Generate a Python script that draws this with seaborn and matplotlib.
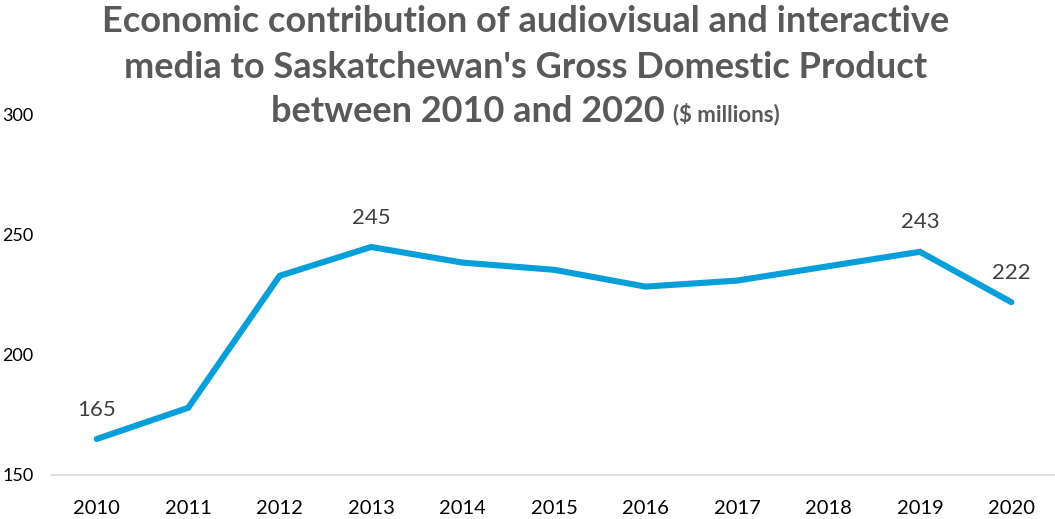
import matplotlib
matplotlib.use("Agg")
import matplotlib.pyplot as plt
import seaborn as sns
import pandas as pd

years = ["2010", "2011", "2012", "2013", "2014", "2015", "2016", "2017", "2018", "2019", "2020"]
gdp = [165, 178, 233, 245, 238.5, 235.5, 228.5, 231, 237, 243, 222]
labelled_years = ["2010", "2013", "2019", "2020"]
y_ticks = [150, 200, 250, 300]

sns.set_theme(style="white")
plt.rcParams["font.family"] = ["Lato", "DejaVu Sans"]

df = pd.DataFrame({"year": years, "gdp": gdp})

fig = plt.figure(figsize=(10.55, 5.19), dpi=100)
ax = fig.add_axes([51 / 1055, 1 - 475 / 519, 1 - 51 / 1055 + 0.002, (475 - 115) / 519])

sns.lineplot(data=df, x="year", y="gdp", ax=ax, color="#069fd9", linewidth=4.4,
             sort=False, solid_capstyle="round", solid_joinstyle="miter")

ax.set_xlim(-0.5, len(years) - 0.5)
ax.set_ylim(y_ticks[0], y_ticks[-1])
ax.set_yticks(y_ticks)
ax.set_xlabel("")
ax.set_ylabel("")
for s in ["top", "right", "left"]:
    ax.spines[s].set_visible(False)
ax.spines["bottom"].set_color("#d9d9d9")
ax.spines["bottom"].set_linewidth(1.2)
ax.tick_params(axis="both", length=0, colors="#000000")
ax.tick_params(axis="x", labelsize=14.5, pad=18)
ax.tick_params(axis="y", labelsize=13, pad=12.5)

for i, (yr, v) in enumerate(zip(years, gdp)):
    if yr in labelled_years:
        ax.annotate(f"{v:.0f}", (i, v), xytext=(0, 14), textcoords="offset points",
                    ha="center", va="bottom", fontsize=16, color="#404040")

title_color = "#595959"
cx = 0.498
fig.text(cx, 1 - 22 / 519, "Economic contribution of audiovisual and interactive",
         ha="center", va="center", fontsize=26, fontweight="bold", color=title_color)
fig.text(cx, 1 - 67 / 519, "media to Saskatchewan's Gross Domestic Product",
         ha="center", va="center", fontsize=26, fontweight="bold", color=title_color)

# third title line: large part followed by smaller unit note, centred together
fig.canvas.draw()
renderer = fig.canvas.get_renderer()
t1 = fig.text(0, 1 - 112 / 519, "between 2010 and 2020 ", ha="left", va="center",
              fontsize=26, fontweight="bold", color=title_color)
t2 = fig.text(0, 1 - 114 / 519, "($ millions)", ha="left", va="center",
              fontsize=16, fontweight="bold", color=title_color)
w1 = t1.get_window_extent(renderer).width / fig.bbox.width
w2 = t2.get_window_extent(renderer).width / fig.bbox.width
start = cx - (w1 + w2) / 2
t1.set_x(start)
t2.set_x(start + w1)

fig.savefig("out.png", dpi=100)
